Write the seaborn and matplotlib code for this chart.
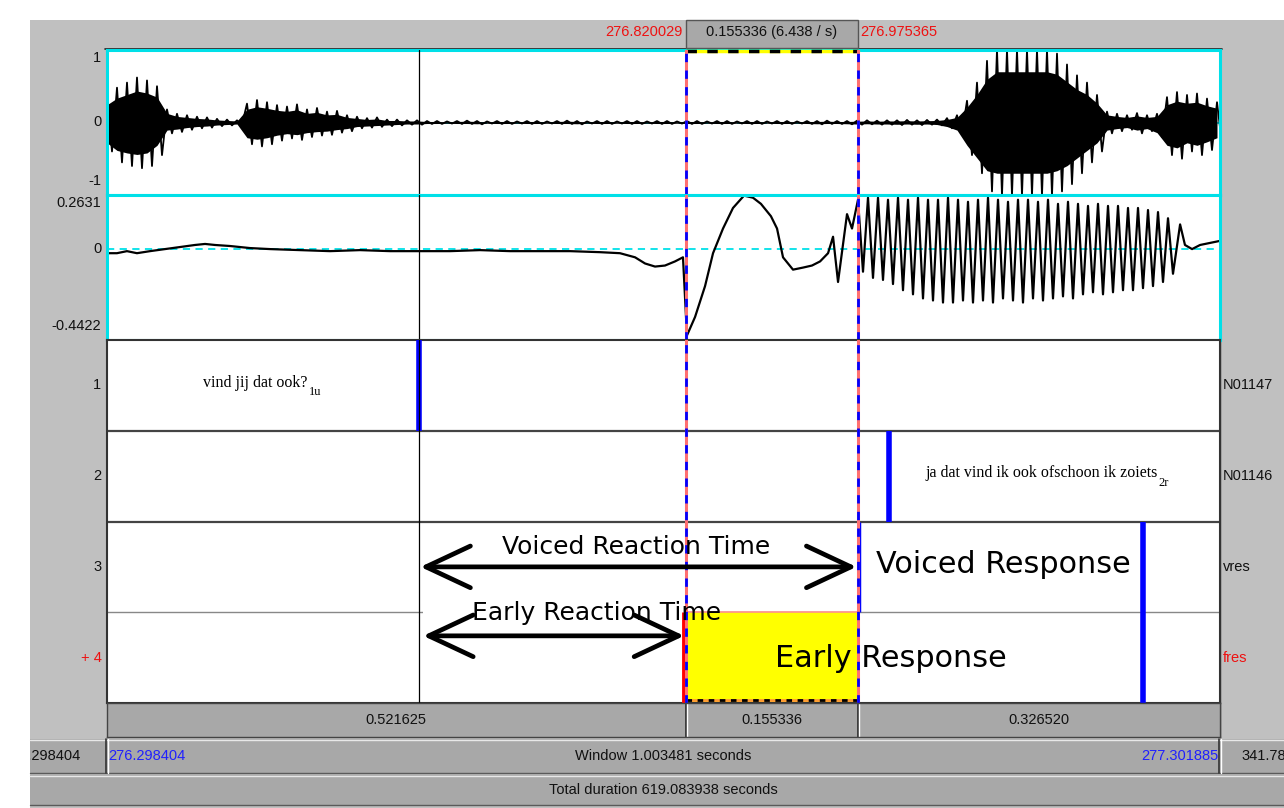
import numpy as np
import matplotlib
matplotlib.use("Agg")
import matplotlib.pyplot as plt
import seaborn as sns
from matplotlib.patches import Rectangle
from matplotlib.transforms import blended_transform_factory as blend

# ---------------- data ----------------
window_start = 276.298404
window_end = 277.301885
total_duration = 619.083938
sel_start = 276.820029
sel_end = 276.975365
tier1_boundary = 276.5797      # end of "vind jij dat ook?" (also the cursor)
tier2_boundary = 277.0035      # start of "ja dat vind ik ..."
response_end = 277.2325        # right boundary in tiers 3 and 4

tier_numbers = ["1", "2", "3", "+ 4"]
tier_names = ["N01147", "N01146", "vres", "fres"]
tier1_text, tier1_sub = "vind jij dat ook?", "1u"
tier2_text, tier2_sub = "ja dat vind ik ook ofschoon ik zoiets", "2r"

# waveform (channel 1): upper / lower envelope peaks, one pair every 9.016 ms
wave_step = 0.009016
wave_upper = [0.35, 0.48, 0.55, 0.62, 0.58, 0.50, 0.18, 0.12, 0.10, 0.08, 0.07, 0.05, 0.04, 0.03,
              0.26, 0.31, 0.28, 0.24, 0.22, 0.25, 0.18, 0.20, 0.15, 0.16, 0.10, 0.08, 0.06, 0.07,
              0.04, 0.04, 0.03, 0.03, 0.02,
              0.02, 0.015, 0.02, 0.025, 0.02, 0.015, 0.02, 0.02, 0.015, 0.02, 0.02, 0.015, 0.02,
              0.025, 0.02, 0.015, 0.02, 0.02, 0.015, 0.02, 0.02, 0.015, 0.02, 0.02, 0.015, 0.02,
              0.02, 0.015, 0.02, 0.02, 0.015, 0.02, 0.02, 0.015, 0.02, 0.02, 0.015, 0.02, 0.02,
              0.025, 0.02, 0.02, 0.025, 0.03, 0.025, 0.03, 0.03, 0.035, 0.03, 0.035,
              0.04, 0.06, 0.10, 0.30, 0.55, 0.85, 1.0, 1.0, 1.0, 1.0, 1.0, 1.0, 0.95, 0.80,
              0.65, 0.55, 0.38, 0.15, 0.12, 0.10, 0.13, 0.10, 0.12, 0.35, 0.42, 0.38, 0.40,
              0.33, 0.28]
wave_lower = [-0.40, -0.55, -0.60, -0.63, -0.60, -0.45, -0.15, -0.13, -0.10, -0.08, -0.07, -0.05,
              -0.04, -0.03, -0.30, -0.33, -0.30, -0.25, -0.22, -0.24, -0.20, -0.18, -0.17, -0.14,
              -0.12, -0.08, -0.07, -0.06, -0.05, -0.04, -0.03, -0.03, -0.02,
              -0.02, -0.015, -0.02, -0.02, -0.025, -0.015, -0.02, -0.02, -0.015, -0.02, -0.02,
              -0.015, -0.02, -0.02, -0.025, -0.015, -0.02, -0.02, -0.015, -0.02, -0.02, -0.015,
              -0.02, -0.02, -0.015, -0.02, -0.02, -0.015, -0.02, -0.02, -0.015, -0.02, -0.02,
              -0.015, -0.02, -0.02, -0.015, -0.02, -0.025, -0.02, -0.02, -0.025, -0.03, -0.025,
              -0.03, -0.03, -0.035, -0.03, -0.035, -0.03,
              -0.04, -0.08, -0.15, -0.45, -0.70, -0.95, -1.0, -1.0, -1.0, -1.0, -1.0, -1.0,
              -0.95, -0.85, -0.70, -0.55, -0.40, -0.15, -0.12, -0.10, -0.15, -0.12, -0.20,
              -0.45, -0.50, -0.40, -0.45, -0.38, -0.30]

# channel 2: time (ms from window start) and value
ch2_ms = [0.0, 9.0, 18.0, 27.0, 38.8, 52.3, 65.8, 79.3, 88.4, 97.4, 110.9, 128.9, 147.0, 174.0,
          201.1, 228.1, 255.2, 282.2, 309.3, 336.3, 363.4, 390.4, 417.5, 444.5, 462.5, 476.1,
          485.1, 494.1, 503.1, 512.1, 519.3, 522.9, 530.2, 539.2, 546.4, 555.4, 564.4, 574.3,
          582.4, 589.6, 598.6, 604.1, 609.5, 618.5, 627.5, 635.6, 642.9, 650.1, 654.6, 659.1,
          667.2, 671.7]
ch2_val = [-0.02, -0.02, -0.01, -0.02, -0.01, 0.0, 0.01, 0.02, 0.025, 0.02, 0.015, 0.005, 0.0,
           -0.005, -0.01, -0.005, -0.01, -0.01, -0.01, -0.005, -0.01, -0.01, -0.01, -0.015,
           -0.02, -0.04, -0.07, -0.085, -0.08, -0.06, -0.04, -0.42, -0.33, -0.18, -0.02, 0.10,
           0.20, 0.26, 0.25, 0.22, 0.16, 0.10, -0.04, -0.10, -0.09, -0.08, -0.06, -0.02, 0.06,
           -0.16, 0.17, 0.10]
osc_start_ms, osc_step_ms = 677.1, 4.508
osc_val = [0.24, -0.11, 0.25, -0.14, 0.25, -0.15, 0.24, -0.17, 0.25, -0.20, 0.24, -0.22,
           0.25, -0.24, 0.24, -0.25, 0.24, -0.26, 0.25, -0.26, 0.24, -0.25, 0.23, -0.26,
           0.24, -0.25, 0.25, -0.26, 0.24, -0.24, 0.23, -0.25, 0.24, -0.26, 0.24, -0.24,
           0.23, -0.25, 0.24, -0.24, 0.22, -0.23, 0.23, -0.24, 0.22, -0.22, 0.21, -0.21,
           0.22, -0.22, 0.21, -0.21, 0.21, -0.20, 0.20, -0.20, 0.20, -0.19, 0.19, -0.18,
           0.18, -0.16, 0.15, -0.12]
tail_ms = [967.5, 971.9, 978.3, 985.5, 994.5, 1003.5]
tail_val = [0.12, 0.02, 0.0, 0.02, 0.03, 0.04]

# ---------------- style ----------------
sns.set_theme(style="white")
plt.rcParams['font.family'] = ['Liberation Sans', 'DejaVu Sans']

W, H = 1284, 808
LIGHT = "#c0c0c0"
BAR = "#a8a8a8"
CYAN = "#00e0e8"
FS = 10.5
fig = plt.figure(figsize=(W / 100, H / 100), dpi=100)
fig.patch.set_facecolor("white")


def ax_at(x0, y0, x1, y1, **kw):
    return fig.add_axes([x0 / W, 1 - y1 / H, (x1 - x0) / W, (y1 - y0) / H], **kw)


# background chrome in pixel coordinates
bg = ax_at(0, 0, W, H, zorder=-5)
bg.set_xlim(0, W)
bg.set_ylim(H, 0)
bg.axis("off")
bg_rect = Rectangle((30, 20), W - 30, H - 20, fc=LIGHT, ec="none")
bg.add_patch(bg_rect)
for (y0, h) in [(739, 34), (775, 30)]:
    bg.add_patch(Rectangle((30, y0), W - 30, h, fc=BAR, ec="none"))
    bg.plot([30, W], [y0 + 0.5, y0 + 0.5], color="#e8e8e8", lw=1)
    bg.plot([30, W], [y0 + h - 0.5, y0 + h - 0.5], color="#5a5a5a", lw=1)
for xx in (107, 1220):
    bg.plot([xx - 1, xx - 1], [739, 773], color="#333333", lw=1.2)
    bg.plot([xx + 1, xx + 1], [739, 773], color="white", lw=1)
bg.plot([1220, 1220], [50, 737], color="#333333", lw=1)
bg.plot([105, 1222], [49, 49], color="#222222", lw=1.2)

txt_kw = dict(fontsize=FS, color="#111111")
t_left = bg.text(81, 756, f"{window_start:.6f}", ha="right", va="center", clip_on=True, **txt_kw)
t_left.set_clip_path(bg_rect)
bg.text(108, 756, f"{window_start:.6f}", ha="left", va="center", fontsize=FS, color="#2020ff")
bg.text(663, 756, f"Window {window_end - window_start:.6f} seconds", ha="center", va="center", **txt_kw)
bg.text(1218, 756, f"{window_end:.6f}", ha="right", va="center", fontsize=FS, color="#2020ff")
bg.text(1241, 756, f"{total_duration - window_end:.6f}", ha="left", va="center", **txt_kw)
bg.text(663, 790, f"Total duration {total_duration:.6f} seconds", ha="center", va="center", **txt_kw)

# ---------------- channel 1 waveform ----------------
ax_w = ax_at(107, 50, 1220, 195)
t_up = window_start + np.arange(len(wave_upper)) * wave_step
t_lo = t_up + wave_step / 2
wx = np.empty(2 * len(t_up))
wy = np.empty(2 * len(t_up))
wx[0::2], wx[1::2] = t_up, t_lo
wy[0::2], wy[1::2] = wave_upper, wave_lower
ax_w.axhline(0, color=CYAN, lw=1.2, ls=(0, (4, 3)), zorder=1)
ax_w.fill_between(t_up, np.array(wave_upper) * 0.7, np.array(wave_lower) * 0.7,
                  color="black", lw=0, zorder=2)
sns.lineplot(x=wx, y=wy, ax=ax_w, color="black", lw=1.3, estimator=None, sort=False, zorder=2)
ax_w.set_xlim(window_start, window_end)
ax_w.set_ylim(-1, 1)

# ---------------- channel 2 ----------------
ax_c = ax_at(107, 195, 1220, 340)
ms_all = np.concatenate([ch2_ms, osc_start_ms + np.arange(len(osc_val)) * osc_step_ms, tail_ms])
v_all = np.concatenate([ch2_val, osc_val, tail_val])
ax_c.axhline(0, color=CYAN, lw=1.3, ls=(0, (4, 3)), zorder=1)
sns.lineplot(x=window_start + ms_all / 1000.0, y=v_all, ax=ax_c, color="black", lw=1.6,
             estimator=None, sort=False, zorder=2)
ax_c.set_xlim(window_start, window_end)
ax_c.set_ylim(-0.4422, 0.2631)

for ax in (ax_w, ax_c):
    ax.set_facecolor("white")
    ax.set_xticks([])
    ax.set_yticks([])
    ax.set_xlabel("")
    ax.set_ylabel("")
    for s in ax.spines.values():
        s.set_color(CYAN)
        s.set_linewidth(2.2)

lab_kw = dict(ha="right", fontsize=FS, color="#111111", textcoords="offset points",
              xycoords=("axes fraction", "data"), annotation_clip=False)
ax_w.annotate("1", xy=(0, 1), xytext=(-4, -1), va="top", **lab_kw)
ax_w.annotate("0", xy=(0, 0), xytext=(-4, 0), va="center", **lab_kw)
ax_w.annotate("-1", xy=(0, -1), xytext=(-4, 5), va="bottom", **lab_kw)
ax_c.annotate("0.2631", xy=(0, 0.2631), xytext=(-4, -1), va="top", **lab_kw)
ax_c.annotate("0", xy=(0, 0), xytext=(-4, 0), va="center", **lab_kw)
ax_c.annotate("-0.4422", xy=(0, -0.4422), xytext=(-4, 5), va="bottom", **lab_kw)

# selection header above the waveform
hb = blend(ax_w.transData, ax_w.transAxes)
ax_w.add_patch(Rectangle((sel_start, 1.014), sel_end - sel_start, 0.193, transform=hb,
                         fc=BAR, ec="#555555", lw=1, clip_on=False))
ax_w.text((sel_start + sel_end) / 2, 1.124, f"{sel_end - sel_start:.6f} ({1 / (sel_end - sel_start):.3f} / s)",
          transform=hb, ha="center", va="center", fontsize=FS, color="#111111")
ax_w.annotate(f"{sel_start:.6f}", xy=(sel_start, 1.124), xycoords=hb, xytext=(-2, 0),
              textcoords="offset points", ha="right", va="center", fontsize=FS, color="#ee1111")
ax_w.annotate(f"{sel_end:.6f}", xy=(sel_end, 1.124), xycoords=hb, xytext=(1.5, 0),
              textcoords="offset points", ha="left", va="center", fontsize=FS, color="#ee1111")
ax_w.plot([sel_start, sel_end], [0.995, 0.995], transform=hb, color="yellow", lw=2.5, clip_on=False, zorder=5)
ax_w.plot([sel_start, sel_end], [0.995, 0.995], transform=hb, color="black", lw=2.5,
          ls=(0, (3, 3)), clip_on=False, zorder=6)

# ---------------- tiers ----------------
ax_t = ax_at(107, 340, 1220, 703)
ax_t.set_xlim(window_start, window_end)
ax_t.set_ylim(4, 0)
ax_t.set_xticks([])
ax_t.set_yticks([])
for s in ax_t.spines.values():
    s.set_color("#333333")
    s.set_linewidth(1.5)
ax_t.axhline(1, color="#444444", lw=1.6)
ax_t.axhline(2, color="#444444", lw=1.6)
ax_t.axhline(3, color="#888888", lw=1.0)

# yellow early-response interval
ax_t.add_patch(Rectangle((sel_start, 3), sel_end - sel_start, 1, fc="yellow", ec="none", zorder=2))
ax_t.hlines(3.0, sel_start, sel_end, color="#ff9090", lw=1.2, zorder=3)
ax_t.hlines(3.97, sel_start, sel_end, color="#ff9933", lw=2, zorder=3)
ax_t.hlines(3.97, sel_start, sel_end, color="black", lw=2, ls=(0, (2, 2)), zorder=4)

# white area of the pasted annotation (hides tier 3/4 separator)
ax_t.add_patch(Rectangle((tier1_boundary + 0.004, 2.85), sel_start - tier1_boundary - 0.0055, 0.3,
                         fc="white", ec="none", zorder=2))

# boundaries
ax_t.vlines(tier1_boundary, 0, 1, color="blue", lw=4, zorder=5)
ax_t.vlines(tier2_boundary, 1, 2, color="blue", lw=4, zorder=5)
ax_t.vlines(sel_end + 0.0012, 2, 3, color="blue", lw=2.5, zorder=5)
ax_t.vlines(response_end, 2, 4, color="blue", lw=4, zorder=5)
ax_t.vlines(sel_start - 0.001, 3, 4, color="red", lw=3.5, zorder=5)

# cursor and selection borders
for ax in (ax_w, ax_c, ax_t):
    ax.axvline(tier1_boundary, color="black", lw=0.9, zorder=6)
    ax.axvline(sel_start, color="#ff7070", lw=2.2, zorder=7)
    ax.axvline(sel_start, color="blue", lw=2.0, ls=(0, (3, 3)), zorder=8)
    ax.axvline(sel_end, color="#ff7070", lw=2.2, zorder=7)
    ax.axvline(sel_end, color="blue", lw=2.0, ls=(0, (3, 3)), zorder=8)

# tier texts
serif = ["Liberation Serif", "DejaVu Serif"]
t1 = ax_t.text(276.3850, 0.47, tier1_text, ha="left", va="center", fontsize=11.5,
               family=serif, color="black", zorder=5)
ax_t.annotate(tier1_sub, xy=(1, 0), xycoords=t1, xytext=(1, -1), textcoords="offset points",
              ha="left", va="center", fontsize=9, family=serif, color="black")
t2 = ax_t.text(277.0359, 1.47, tier2_text, ha="left", va="center", fontsize=11.5,
               family=serif, color="black", zorder=5)
ax_t.annotate(tier2_sub, xy=(1, 0), xycoords=t2, xytext=(1, -1), textcoords="offset points",
              ha="left", va="center", fontsize=9, family=serif, color="black")

for i, (num, name) in enumerate(zip(tier_numbers, tier_names)):
    col = "#ee1111" if i == 3 else "#111111"
    ax_t.annotate(num, xy=(0, i + 0.5), xycoords=("axes fraction", "data"), xytext=(-4, 0),
                  textcoords="offset points", ha="right", va="center", fontsize=FS, color=col,
                  annotation_clip=False)
    ax_t.annotate(name, xy=(1, i + 0.5), xycoords=("axes fraction", "data"), xytext=(2, 0),
                  textcoords="offset points", ha="left", va="center", fontsize=FS, color=col,
                  annotation_clip=False)

# reaction time annotations
big = ["DejaVu Sans"]
arrow = dict(arrowstyle="<->,head_length=1.6,head_width=0.75", lw=3.4, color="black",
             mutation_scale=20, shrinkA=1, shrinkB=1)
ax_t.annotate("", xy=(sel_end, 2.50), xytext=(tier1_boundary, 2.50), arrowprops=arrow, zorder=9)
arrow2 = dict(arrow, shrinkA=3, shrinkB=1)
ax_t.annotate("", xy=(sel_start, 3.26), xytext=(tier1_boundary, 3.26), arrowprops=arrow2, zorder=9)
ax_t.text(276.7754, 2.28, "Voiced Reaction Time", ha="center", va="center", fontsize=18,
          family=big, color="black", zorder=9)
ax_t.text(276.7402, 3.01, "Early Reaction Time", ha="center", va="center", fontsize=18,
          family=big, color="black", zorder=9)
ax_t.text(276.9918, 2.47, "Voiced Response", ha="left", va="center", fontsize=21.8,
          family=big, color="black", zorder=9)
ax_t.text(276.9007, 3.51, "Early Response", ha="left", va="center", fontsize=21.8,
          family=big, color="black", zorder=9)

# ---------------- duration bar ----------------
ax_d = ax_at(107, 703, 1220, 737)
ax_d.set_xlim(window_start, window_end)
ax_d.set_ylim(0, 1)
ax_d.set_facecolor(BAR)
ax_d.set_xticks([])
ax_d.set_yticks([])
for s in ax_d.spines.values():
    s.set_color("#444444")
    s.set_linewidth(1)
edges = [window_start, sel_start, sel_end, window_end]
for e in edges[1:-1]:
    ax_d.axvline(e, color="#333333", lw=1.3)
    ax_d.axvline(e + 0.0012, color="white", lw=1)
for a, b in zip(edges[:-1], edges[1:]):
    ax_d.text((a + b) / 2, 0.5, f"{b - a:.6f}", ha="center", va="center", fontsize=FS, color="#111111")

fig.savefig("out.png", dpi=100)
